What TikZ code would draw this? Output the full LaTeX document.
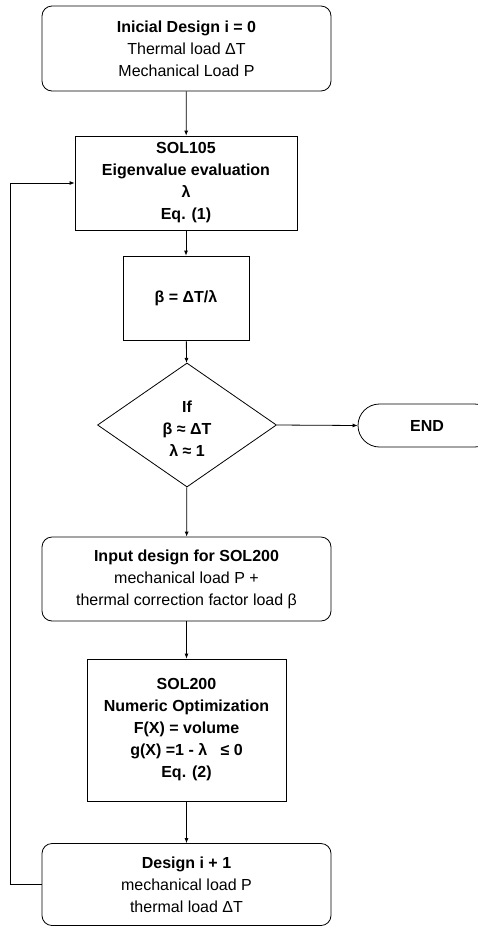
\documentclass[tikz,border=0pt]{standalone}
\usepackage{fontspec}
\setmainfont{Liberation Sans}
\usetikzlibrary{shapes.geometric,shapes.misc,arrows.meta}
\begin{document}
\begin{tikzpicture}[x=1pt,y=-1pt, line width=0.8pt,
  box/.style={draw, align=center, inner sep=0pt, font=\fontsize{16}{22}\selectfont},
  bbox/.style={box, font=\fontsize{16}{22}\selectfont\bfseries},
  rbox/.style={box, rounded corners=10pt},
  arr/.style={-{Latex[length=5pt,width=4pt]}}]
\useasboundingbox (0,0) rectangle (477,927);

\node[rbox, minimum width=289pt, minimum height=85pt] (n1) at (186.5,48.5)
  {\textbf{Inicial Design i = 0}\\Thermal load ΔT\\Mechanical Load P};
\node[bbox, minimum width=222pt, minimum height=94pt] (n2) at (186,183)
  {SOL105\\Eigenvalue evaluation\\λ\\Eq. (1)};
\node[bbox, minimum width=126pt, minimum height=84pt] (n3) at (186,298)
  {β = ΔT/λ};
\node[bbox, shape=diamond, minimum width=179pt, minimum height=124pt] (n4) at (187,425)
  {\raisebox{-9pt}[0pt][0pt]{\begin{tabular}{@{}c@{}}If\\β ≈ ΔT\\λ ≈ 1\end{tabular}}};
\node[bbox, shape=rounded rectangle, minimum width=138pt, minimum height=43pt] (end) at (427,425.5)
  {END};
\node[rbox, minimum width=289pt, minimum height=84pt] (n5) at (186.5,579)
  {\textbf{Input design for SOL200}\\mechanical load P +\\thermal correction factor load β};
\node[bbox, minimum width=199pt, minimum height=142pt] (n6) at (186.5,730)
  {SOL200\\Numeric Optimization\\F(X) = volume\\g(X) =1 - λ \ \ ≤ 0\\Eq. (2)};
\node[rbox, minimum width=289pt, minimum height=82pt] (n7) at (186.5,884.5)
  {\textbf{Design i + 1}\\mechanical load P\\thermal load ΔT};

\draw[arr] (n1) -- (n2);
\draw[arr] (n2) -- (n3);
\draw[arr] (n3) -- (n4);
\draw[arr] (n4.east) -- (end.west);
\draw[arr] (n4) -- (n5);
\draw[arr] (n5) -- (n6);
\draw[arr] (n6) -- (n7);
\draw[arr] (n7.west) -- ++(-31,0) |- (n2.west);
\end{tikzpicture}
\end{document}
